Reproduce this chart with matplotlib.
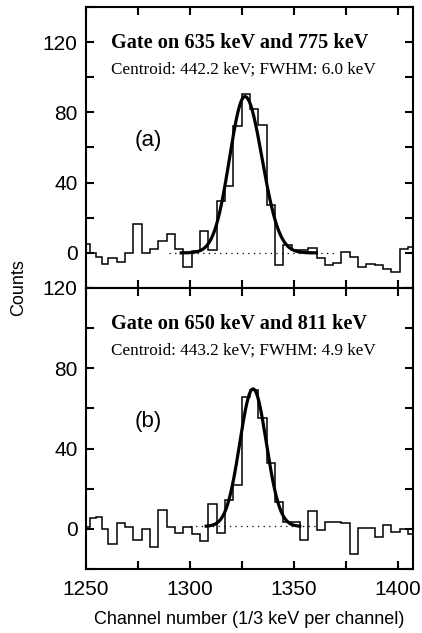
import numpy as np
import matplotlib
matplotlib.use("Agg")
import matplotlib.pyplot as plt
from matplotlib.ticker import MultipleLocator

# ---- data ----
bin_edges = [1248.8, 1251.8, 1254.7, 1257.6, 1260.8,
             1264.8, 1268.8, 1272.8, 1276.8, 1280.8, 1284.8, 1288.8, 1292.8,
             1296.8, 1300.8, 1304.8, 1308.8, 1312.8, 1316.8, 1320.8, 1324.8,
             1328.8, 1332.8, 1336.8, 1340.8, 1344.8, 1348.8, 1352.8, 1356.8,
             1360.8, 1364.8, 1368.8, 1372.8, 1376.8, 1380.8, 1384.8, 1388.8,
             1392.8, 1396.8, 1400.8, 1404.8, 1408.8]

counts_a = [5.3, 0, -2.6, -6.6, -2.8, -5, 0, 16.3, 0, 2.4, 6.6, 10.9, 2.4,
            -8.3, 1.1, 12.2, 1.5, 29.7, 37.8, 72.4, 90.4, 81.8, 72.9, 27.3,
            -7, 4.7, 1.5, 1.5, 3.0, -2.8, -7, -5.5, 0.6, -2.4, -7.9, -6.4,
            -7, -9.2, -11, 2.4, 3.4]

counts_b = [0.7, 5.3, 5.9, -0.2, -7.4, 3, 1.1, -5.6, 0, -8.8, 9.4, 0.7, -2.3,
            1.0, -2.8, -5.9, 12.5, -2, 14.2, 21.9, 65.7, 69, 55.4, 33, 13.4,
            3.5, 3.5, -5.8, 9, -0.7, 3.5, 3.5, 3.1, -12.7, 0.2, 0.2, -4.1,
            2.1, -1.5, -0.3, -2.8]

# Gaussian fit parameters (channels): amplitude, centroid, sigma_left, sigma_right, background
fit_a = dict(amp=89.0, cen=1326.4, sl=7.4, sr=8.2, bg=0.0, x0=1295.0, x1=1361.5)
fit_b = dict(amp=68.5, cen=1330.3, sl=6.4, sr=6.4, bg=1.2, x0=1307.0, x1=1353.5)
baseline_a = dict(level=0.0, x0=1290.0, x1=1369.0)
baseline_b = dict(level=1.2, x0=1300.0, x1=1361.0)

gates = ["Gate on 635 keV and 775 keV", "Gate on 650 keV and 811 keV"]
centroids = ["Centroid: 442.2 keV; FWHM: 6.0 keV", "Centroid: 443.2 keV; FWHM: 4.9 keV"]
panel_tags = ["(a)", "(b)"]

xticks = [1250, 1300, 1350, 1400]
yticks = [0, 40, 80, 120]

# ---- style ----
sans = ["Liberation Sans", "DejaVu Sans"]
serif = ["Liberation Serif", "DejaVu Serif"]
plt.rcParams['font.family'] = sans

fig = plt.figure(figsize=(4.22, 6.33), dpi=100)
ax1 = fig.add_axes([0.2038, 0.545, 0.774, 0.444])
ax2 = fig.add_axes([0.2038, 0.1011, 0.774, 0.444])


def fit_curve(p):
    x = np.linspace(p['x0'], p['x1'], 400)
    s = np.where(x < p['cen'], p['sl'], p['sr'])
    return x, p['bg'] + p['amp'] * np.exp(-0.5 * ((x - p['cen']) / s) ** 2)


for ax, counts, fp, bl, g, c, tag, ylim in [
        (ax1, counts_a, fit_a, baseline_a, gates[0], centroids[0], panel_tags[0], (-20, 140)),
        (ax2, counts_b, fit_b, baseline_b, gates[1], centroids[1], panel_tags[1], (-20, 120))]:
    ax.stairs(counts, bin_edges, baseline=None, color='black', lw=1.1)
    x, y = fit_curve(fp)
    ax.plot(x, y, color='black', lw=2.3, solid_capstyle='butt')
    ax.plot([bl['x0'], bl['x1']], [bl['level'], bl['level']], color='black',
            lw=0.9, linestyle=(0, (1, 3.5)))
    ax.set_xlim(1250, 1407)
    ax.set_ylim(*ylim)
    ax.set_xticks(xticks)
    ax.set_yticks(yticks)
    ax.xaxis.set_minor_locator(MultipleLocator(25))
    ax.yaxis.set_minor_locator(MultipleLocator(20))
    ax.tick_params(which='both', direction='in', top=True, right=True,
                   length=6, width=1.5, labelsize=15, pad=6)
    for sp in ax.spines.values():
        sp.set_linewidth(1.5)
    ax.text(0.075, 0.873, g, transform=ax.transAxes, family=serif,
            fontweight='bold', fontsize=14.6, va='center', ha='left')
    ax.text(0.075, 0.776, c, transform=ax.transAxes, family=serif,
            fontsize=12.3, va='center', ha='left')
    ax.text(0.15, 0.525, tag, transform=ax.transAxes, fontsize=16,
            va='center', ha='left')

ax1.tick_params(labelbottom=False)
ax2.tick_params(axis='x', pad=8)

fig.text(0.043, 0.545, "Counts", rotation=90, fontsize=13, ha='center', va='center')
fig.text(0.591, 0.022, "Channel number (1/3 keV per channel)", fontsize=13,
         ha='center', va='center')

fig.savefig("out.png", dpi=100)
